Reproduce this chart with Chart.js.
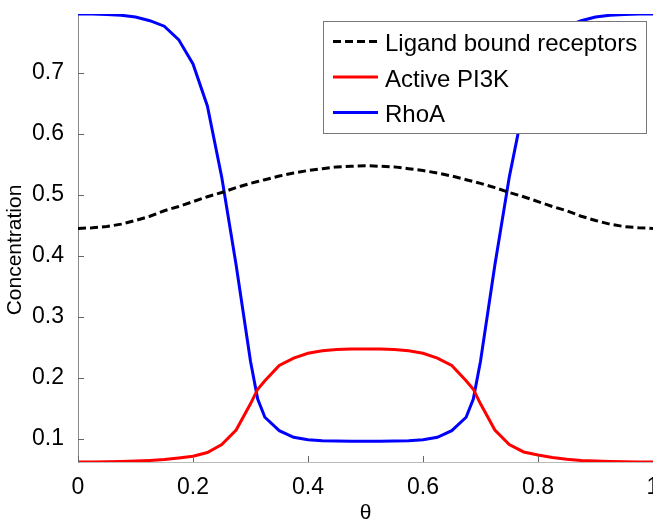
<!DOCTYPE html>
<html>
<head>
<meta charset="utf-8">
<script src="https://cdn.jsdelivr.net/npm/chart.js@4"></script>
<style>
  html, body { margin: 0; padding: 0; background: #fff; }
  canvas { display: block; }
</style>
</head>
<body>
<canvas id="chart" width="653" height="523"></canvas>
<script>
// theta positions (shared by all three curves)
const theta = [0, 0.025, 0.05, 0.075, 0.1, 0.125, 0.15, 0.175, 0.2, 0.225, 0.25, 0.275, 0.3, 0.3125, 0.325, 0.35, 0.375, 0.4, 0.425, 0.45, 0.475,
  0.5, 0.525, 0.55, 0.575, 0.6, 0.625, 0.65, 0.675, 0.6875, 0.7, 0.725, 0.75, 0.775, 0.8, 0.825, 0.85, 0.875, 0.9, 0.925, 0.95, 0.975, 1];

const ligand = [0.445, 0.446, 0.448, 0.452, 0.458, 0.465, 0.474, 0.481, 0.489, 0.497, 0.504, 0.512, 0.519, 0.522, 0.525, 0.531, 0.536, 0.540, 0.543, 0.546, 0.547,
  0.548, 0.547, 0.546, 0.543, 0.540, 0.536, 0.531, 0.525, 0.522, 0.519, 0.512, 0.504, 0.497, 0.489, 0.481, 0.474, 0.465, 0.458, 0.452, 0.448, 0.446, 0.445];

const pi3k = [0.0615, 0.0617, 0.062, 0.0625, 0.063, 0.064, 0.0655, 0.068, 0.071, 0.077, 0.090, 0.114, 0.157, 0.181, 0.195, 0.220, 0.232, 0.240, 0.244, 0.246, 0.247,
  0.247, 0.247, 0.246, 0.244, 0.240, 0.232, 0.220, 0.195, 0.181, 0.157, 0.114, 0.090, 0.078, 0.073, 0.069, 0.066, 0.064, 0.063, 0.0625, 0.062, 0.0617, 0.0615];

const rhoa = [0.797, 0.797, 0.796, 0.795, 0.792, 0.786, 0.777, 0.755, 0.715, 0.646, 0.529, 0.385, 0.227, 0.165, 0.135, 0.113, 0.102, 0.098, 0.0965, 0.096, 0.0955,
  0.0955, 0.0955, 0.096, 0.0965, 0.098, 0.102, 0.113, 0.135, 0.165, 0.227, 0.385, 0.529, 0.646, 0.715, 0.755, 0.777, 0.786, 0.792, 0.795, 0.796, 0.797, 0.797];

const seriesLabels = ["Ligand bound receptors", "Active PI3K", "RhoA"];
const xTicks = [0, 0.2, 0.4, 0.6, 0.8, 1];
const yTicks = [0.1, 0.2, 0.3, 0.4, 0.5, 0.6, 0.7];
const yMin = 0.0615;
const yMax = 0.797;
const yTitle = "Concentration";

const FONT = "'Liberation Sans', Arial, Helvetica, sans-serif";

function points(ys) {
  return theta.map((t, i) => ({ x: t, y: ys[i] }));
}

// matlab style ticks pointing into the plot
const inwardTicks = {
  id: "inwardTicks",
  afterDraw(chart) {
    const { ctx, chartArea, scales } = chart;
    ctx.save();
    ctx.strokeStyle = "#666";
    ctx.lineWidth = 1;
    scales.x.ticks.forEach(t => {
      const px = Math.round(scales.x.getPixelForValue(t.value)) + 0.5;
      ctx.beginPath();
      ctx.moveTo(px, chartArea.bottom);
      ctx.lineTo(px, chartArea.bottom - 6);
      ctx.stroke();
    });
    scales.y.ticks.forEach(t => {
      const py = Math.round(scales.y.getPixelForValue(t.value)) + 0.5;
      ctx.beginPath();
      ctx.moveTo(chartArea.left, py);
      ctx.lineTo(chartArea.left + 6, py);
      ctx.stroke();
    });
    ctx.restore();
  }
};

// y label sits a bit below the middle of the axis in the original
const yLabel = {
  id: "yLabel",
  afterDraw(chart) {
    const { ctx, chartArea } = chart;
    ctx.save();
    ctx.translate(15, (chartArea.top + chartArea.bottom) / 2 + 12);
    ctx.rotate(-Math.PI / 2);
    ctx.font = "21px " + FONT;
    ctx.fillStyle = "#000";
    ctx.textAlign = "center";
    ctx.textBaseline = "middle";
    ctx.fillText(yTitle, 0, 0);
    ctx.restore();
  }
};

// boxed legend in the top right corner, drawn over the lines
const boxLegend = {
  id: "boxLegend",
  afterDraw(chart) {
    const { ctx, chartArea } = chart;
    const w = 323, h = 112;
    const left = chartArea.right - 7 - w;
    const top = chartArea.top + 7;
    ctx.save();
    ctx.fillStyle = "#fff";
    ctx.fillRect(left, top, w, h);
    ctx.strokeStyle = "#777";
    ctx.lineWidth = 1;
    ctx.strokeRect(Math.round(left) + 0.5, Math.round(top) + 0.5, w, h);
    ctx.font = "24px " + FONT;
    ctx.textBaseline = "middle";
    ctx.textAlign = "left";
    chart.data.datasets.forEach((ds, i) => {
      const y = top + 20.5 + i * 35.5;
      ctx.strokeStyle = ds.borderColor;
      ctx.lineWidth = ds.borderWidth;
      ctx.setLineDash(ds.borderDash || []);
      ctx.beginPath();
      ctx.moveTo(left + 10, y);
      ctx.lineTo(left + 55, y);
      ctx.stroke();
      ctx.setLineDash([]);
      ctx.fillStyle = "#000";
      ctx.fillText(ds.label, left + 62, y + 3);
    });
    ctx.restore();
  }
};

new Chart(document.getElementById("chart"), {
  type: "line",
  data: {
    datasets: [
      { label: seriesLabels[0], data: points(ligand), borderColor: "#000", borderWidth: 3, borderDash: [8, 4] },
      { label: seriesLabels[1], data: points(pi3k), borderColor: "#f00", borderWidth: 3 },
      { label: seriesLabels[2], data: points(rhoa), borderColor: "#00f", borderWidth: 3 }
    ]
  },
  options: {
    responsive: false,
    animation: false,
    devicePixelRatio: 1,
    layout: { padding: { top: 14, right: 0, left: 0, bottom: 0 } },
    elements: { point: { radius: 0 }, line: { tension: 0 } },
    plugins: { legend: { display: false }, tooltip: { enabled: false } },
    scales: {
      x: {
        type: "linear",
        min: 0,
        max: 1,
        grid: { display: false },
        border: { display: true, color: "#bbb", width: 1 },
        ticks: {
          color: "#000",
          font: { family: FONT, size: 23 },
          padding: 4,
          callback: v => String(v)
        },
        afterBuildTicks: s => { s.ticks = xTicks.map(v => ({ value: v })); },
        afterFit: s => { s.height = 61; s.paddingLeft = 0; s.paddingRight = 0; },
        title: {
          display: true,
          text: "θ",
          color: "#000",
          font: { family: FONT, size: 21 },
          padding: { top: 0, bottom: -3 }
        }
      },
      y: {
        type: "linear",
        min: yMin,
        max: yMax,
        grid: { display: false },
        border: { display: true, color: "#888", width: 1 },
        ticks: {
          color: "#000",
          font: { family: FONT, size: 23 },
          padding: 6,
          callback: v => v.toFixed(1)
        },
        afterBuildTicks: s => { s.ticks = yTicks.map(v => ({ value: v })); },
        afterFit: s => { s.width = 78; s.paddingTop = 0; s.paddingBottom = 0; }
      }
    }
  },
  plugins: [inwardTicks, yLabel, boxLegend]
});
</script>
</body>
</html>
